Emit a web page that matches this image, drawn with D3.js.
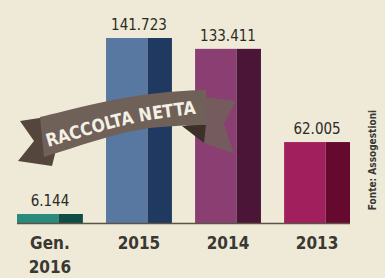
<!DOCTYPE html>
<html lang="it">
<head>
<meta charset="utf-8"/>
<title>Raccolta netta</title>
<script src="https://cdnjs.cloudflare.com/ajax/libs/d3/7.8.5/d3.min.js"></script>
<style>
  html, body { margin: 0; padding: 0; background: #eeead7; }
  svg { display: block; }
  text { font-family: "DejaVu Sans Condensed", "DejaVu Sans", sans-serif; }
</style>
</head>
<body>
<div id="chart"></div>
<script>
// data
var categories = ["Gen. 2016", "2015", "2014", "2013"];
var catLines = [["Gen.", "2016"], ["2015"], ["2014"], ["2013"]];
var values = [6144, 141723, 133411, 62005];
var valueLabels = ["6.144", "141.723", "133.411", "62.005"];

// palette (light face / dark side)
var lightCol = ["#2a8a7c", "#5878a2", "#8a3e72", "#a01f5c"];
var darkCol  = ["#0f4c45", "#1f3961", "#4b1538", "#66092f"];

var W = 385, H = 278;
var base = 223;

var svg = d3.select("#chart").append("svg")
  .attr("width", W).attr("height", H);

svg.append("rect").attr("width", W).attr("height", H).attr("fill", "#eeead7");

var x = d3.scaleBand().domain(categories).range([17, 350]).paddingInner(0.26).paddingOuter(0);
var y = d3.scaleLinear().domain([0, d3.max(values)]).range([base, 38]);

// small bar gets a minimum height so it stays visible
function barTop(i) { return Math.min(y(values[i]), base - 9); }

var bars = svg.append("g").selectAll("g")
  .data(categories)
  .enter().append("g");

// light part
bars.append("rect")
  .attr("x", function(d){ return x(d); })
  .attr("y", function(d, i){ return barTop(i); })
  .attr("width", x.bandwidth() * 0.63)
  .attr("height", function(d, i){ return base - barTop(i); })
  .attr("fill", function(d, i){ return lightCol[i]; });

// dark part
bars.append("rect")
  .attr("x", function(d){ return x(d) + x.bandwidth() * 0.63; })
  .attr("y", function(d, i){ return barTop(i); })
  .attr("width", x.bandwidth() * 0.37)
  .attr("height", function(d, i){ return base - barTop(i); })
  .attr("fill", function(d, i){ return darkCol[i]; });

// baseline
svg.append("line")
  .attr("x1", 17).attr("x2", 350)
  .attr("y1", base + 0.5).attr("y2", base + 0.5)
  .attr("stroke", "#5b5344").attr("stroke-width", 1.6);

// value labels
bars.append("text")
  .attr("x", function(d){ return x(d) + x.bandwidth() / 2; })
  .attr("y", function(d, i){ return barTop(i) - 8; })
  .attr("text-anchor", "middle")
  .attr("font-size", 15)
  .attr("fill", "#2c2a26")
  .text(function(d, i){ return valueLabels[i]; });

// category labels
bars.each(function(d, i){
  var t = d3.select(this).append("text")
    .attr("x", x(d) + x.bandwidth() / 2)
    .attr("y", 249)
    .attr("text-anchor", "middle")
    .attr("font-size", 17)
    .attr("font-weight", "bold")
    .attr("fill", "#3a3832");
  catLines[i].forEach(function(l, j){
    t.append("tspan")
      .attr("x", x(d) + x.bandwidth() / 2)
      .attr("dy", j === 0 ? 0 : 24)
      .text(l);
  });
});

// ribbon
var rib = svg.append("g");
// left tail
rib.append("path")
  .attr("d", "M46,117 L20,121 L34,141 L18,161 L52,166 L56,150 Z")
  .attr("fill", "#54453d");
// right tail
rib.append("path")
  .attr("d", "M196,96 L236,101 L224,124 L234,154 L202,142 L186,126 Z")
  .attr("fill", "#6f6259").attr("opacity", 0.8);
rib.append("path")
  .attr("d", "M182,126 L206,124 L204,143 Z")
  .attr("fill", "#3d2f29");
// main band
rib.append("path")
  .attr("d", "M40,117 C70,110 100,101 150,94 C175,91 195,90 206,90 L206,125 C190,125 170,126 150,128 C110,134 80,146 44,157 Z")
  .attr("fill", "#6f6158");

svg.append("defs").append("path")
  .attr("id", "ribPath")
  .attr("d", "M48,147 C80,138 110,127 150,120 C175,116 192,114 206,113");

rib.append("text")
  .attr("font-size", 18)
  .attr("font-weight", "bold")
  .attr("fill", "#f4f0e6")
  .append("textPath")
  .attr("href", "#ribPath")
  .attr("textLength", 152)
  .attr("lengthAdjust", "spacingAndGlyphs")
  .text("RACCOLTA NETTA");

// source
svg.append("text")
  .attr("transform", "translate(376,160) rotate(-90)")
  .attr("text-anchor", "middle")
  .attr("font-size", 10)
  .attr("font-weight", "bold")
  .attr("fill", "#3a3832")
  .text("Fonte: Assogestioni");
</script>
</body>
</html>
